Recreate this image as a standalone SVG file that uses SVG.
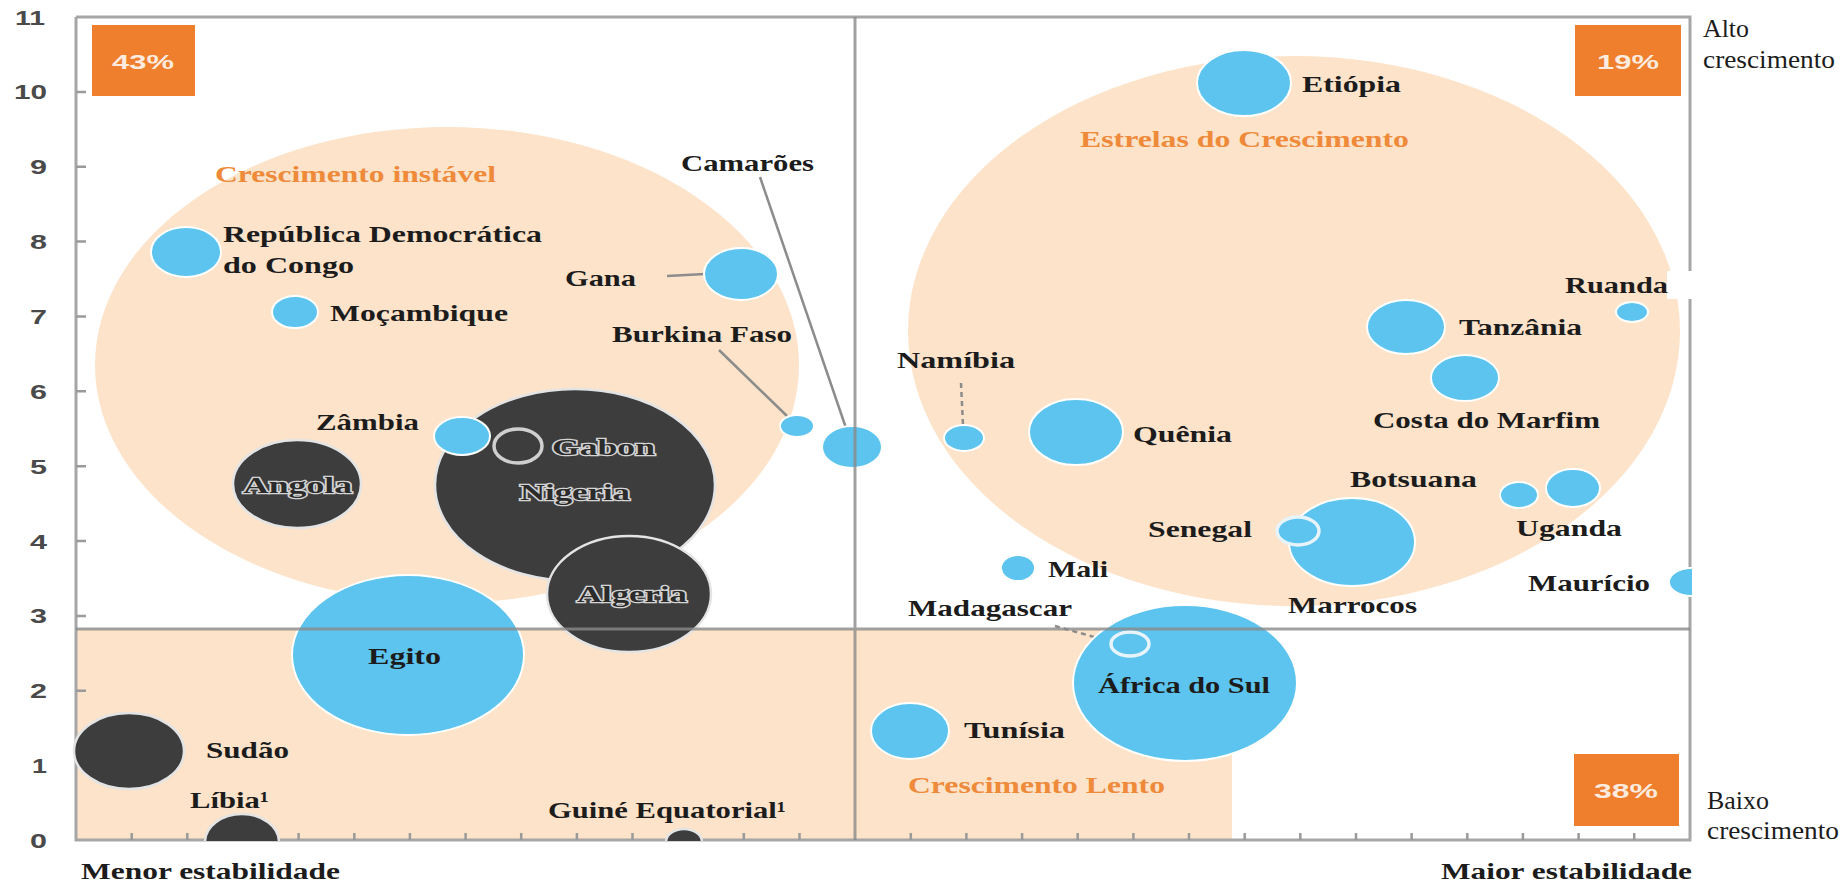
<svg xmlns="http://www.w3.org/2000/svg" width="1844" height="886" viewBox="0 0 1844 886">
<style>
.peach{fill:#fce3c9}
.blue{fill:#5cc4ee;stroke:#ffffff;stroke-width:2}
.dark{fill:#3d3d3d;stroke:#e4e4e4;stroke-width:2.5}
.box{fill:#ef7f2d}
.lbl{font-family:"Liberation Serif","Times New Roman",serif;font-weight:bold;font-size:23px;fill:#1c1c1c}
.reg{fill:#ee8a3a}
.dk{fill:#2b2b2b;stroke:#d4d4d4;stroke-width:2.5;paint-order:stroke}
.ax{font-family:"Liberation Sans",Arial,sans-serif;font-weight:bold;font-size:21px;fill:#4a4a4a}
.side{font-family:"Liberation Serif","Times New Roman",serif;font-size:26px;fill:#1c1c1c}
.pct{font-family:"Liberation Sans",Arial,sans-serif;font-weight:bold;font-size:21px;fill:#fff;fill-opacity:0.85}
.frame{stroke:#a6a6a6;stroke-width:3;fill:none}
.grid{stroke:#8a8a8a;stroke-width:3;fill:none;stroke-opacity:0.8}
.lead{stroke:#8c8c8c;stroke-width:2.5;fill:none}
.dash{stroke:#8c8c8c;stroke-width:2.5;fill:none;stroke-dasharray:5 4}
</style>
<defs>
<clipPath id="plot"><rect x="76" y="17" width="1616" height="824"/></clipPath>
</defs>
<rect x="0" y="0" width="1844" height="886" fill="#ffffff"/>

<g id="regions">
<ellipse class="peach" cx="447" cy="365" rx="352" ry="238"/>
<ellipse class="peach" cx="1294" cy="331" rx="386" ry="275"/>
<rect class="peach" x="76" y="629" width="1156" height="211"/>
<rect x="1667" y="271" width="35" height="28" fill="#ffffff"/>
</g>

<g id="axes">
<path class="frame" d="M76 17H1690V271M1690 299V840H76V17"/>
<path stroke="#9a9a9a" stroke-width="2.5" fill="none" d="M131.7 840v-7M187.3 840v-7M243 840v-7M298.6 840v-7M354.3 840v-7M409.9 840v-7M465.6 840v-7M521.2 840v-7M576.9 840v-7M632.5 840v-7M688.2 840v-7M743.8 840v-7M799.5 840v-7M910.8 840v-7M966.4 840v-7M1022.1 840v-7M1077.7 840v-7M1133.4 840v-7M1189 840v-7M1244.7 840v-7M1300.3 840v-7M1356 840v-7M1411.6 840v-7M1467.3 840v-7M1522.9 840v-7M1578.6 840v-7M1634.2 840v-7M76 765.6h10M76 690.8h10M76 615.9h10M76 541.1h10M76 466.2h10M76 391.3h10M76 316.5h10M76 241.6h10M76 166.8h10M76 91.9h10"/>
<text class="ax" x="47" y="848" text-anchor="end" textLength="17" lengthAdjust="spacingAndGlyphs">0</text>
<text class="ax" x="47" y="773" text-anchor="end" textLength="15" lengthAdjust="spacingAndGlyphs">1</text>
<text class="ax" x="47" y="698" text-anchor="end" textLength="17" lengthAdjust="spacingAndGlyphs">2</text>
<text class="ax" x="47" y="623" text-anchor="end" textLength="17" lengthAdjust="spacingAndGlyphs">3</text>
<text class="ax" x="47" y="549" text-anchor="end" textLength="17" lengthAdjust="spacingAndGlyphs">4</text>
<text class="ax" x="47" y="474" text-anchor="end" textLength="17" lengthAdjust="spacingAndGlyphs">5</text>
<text class="ax" x="47" y="399" text-anchor="end" textLength="17" lengthAdjust="spacingAndGlyphs">6</text>
<text class="ax" x="47" y="324" text-anchor="end" textLength="17" lengthAdjust="spacingAndGlyphs">7</text>
<text class="ax" x="47" y="249" text-anchor="end" textLength="17" lengthAdjust="spacingAndGlyphs">8</text>
<text class="ax" x="47" y="174" text-anchor="end" textLength="17" lengthAdjust="spacingAndGlyphs">9</text>
<text class="ax" x="47" y="99" text-anchor="end" textLength="33" lengthAdjust="spacingAndGlyphs">10</text>
<text class="ax" x="45" y="25" text-anchor="end" textLength="30" lengthAdjust="spacingAndGlyphs">11</text>
<text class="lbl" x="81" y="879" textLength="259" lengthAdjust="spacingAndGlyphs">Menor estabilidade</text>
<text class="lbl" x="1441" y="879" textLength="251" lengthAdjust="spacingAndGlyphs">Maior estabilidade</text>
<text class="side" x="1703" y="37" textLength="46" lengthAdjust="spacingAndGlyphs">Alto</text>
<text class="side" x="1703" y="68" textLength="132" lengthAdjust="spacingAndGlyphs">crescimento</text>
<text class="side" x="1707" y="809" textLength="62" lengthAdjust="spacingAndGlyphs">Baixo</text>
<text class="side" x="1707" y="839" textLength="132" lengthAdjust="spacingAndGlyphs">crescimento</text>
</g>

<g id="region-labels">
<text class="lbl reg" x="215" y="182" textLength="281" lengthAdjust="spacingAndGlyphs">Crescimento instável</text>
<text class="lbl reg" x="1080" y="147" textLength="329" lengthAdjust="spacingAndGlyphs">Estrelas do Crescimento</text>
<text class="lbl reg" x="908" y="793" textLength="257" lengthAdjust="spacingAndGlyphs">Crescimento Lento</text>
</g>

<g id="box-43"><rect class="box" x="92" y="25" width="103" height="71"/><text class="pct" x="143" y="69" text-anchor="middle" textLength="62" lengthAdjust="spacingAndGlyphs">43%</text></g>
<g id="box-19"><rect class="box" x="1575" y="25" width="106" height="71"/><text class="pct" x="1628" y="69" text-anchor="middle" textLength="62" lengthAdjust="spacingAndGlyphs">19%</text></g>
<g id="box-38"><rect class="box" x="1574" y="754" width="105" height="72"/><text class="pct" x="1626" y="798" text-anchor="middle" textLength="64" lengthAdjust="spacingAndGlyphs">38%</text></g>

<g id="connectors">
<path class="lead" d="M667 276L705 274"/>
<path class="lead" d="M719 350L787 416"/>
<path class="lead" d="M760 177L846 428"/>
<path class="dash" d="M961 383L963 425"/>
<path class="dash" d="M1055 626L1112 642"/>
</g>

<g id="rdc"><ellipse class="blue" cx="186" cy="252" rx="35" ry="25"/><text class="lbl" x="223" y="242" textLength="319" lengthAdjust="spacingAndGlyphs">República Democrática</text><text class="lbl" x="223" y="273" textLength="131" lengthAdjust="spacingAndGlyphs">do Congo</text></g>
<g id="mocambique"><ellipse class="blue" cx="295" cy="312" rx="23" ry="16"/><text class="lbl" x="330" y="321" textLength="178" lengthAdjust="spacingAndGlyphs">Moçambique</text></g>
<g id="angola"><ellipse class="dark" cx="297" cy="484" rx="64" ry="44"/><text class="lbl dk" x="243" y="493" textLength="109" lengthAdjust="spacingAndGlyphs">Angola</text></g>
<g id="nigeria"><ellipse class="dark" cx="575" cy="485" rx="140" ry="96"/><text class="lbl dk" x="520" y="500" textLength="110" lengthAdjust="spacingAndGlyphs">Nigeria</text></g>
<g id="zambia"><ellipse class="blue" cx="462" cy="436" rx="28" ry="19"/><text class="lbl" x="316" y="430" textLength="103" lengthAdjust="spacingAndGlyphs">Zâmbia</text></g>
<g id="gabon"><ellipse cx="518" cy="446" rx="24" ry="17" fill="#3d3d3d" stroke="#cfcfcf" stroke-width="3.5"/><text class="lbl dk" x="552" y="455" textLength="103" lengthAdjust="spacingAndGlyphs">Gabon</text></g>
<g id="algeria"><ellipse class="dark" cx="629" cy="594" rx="82" ry="58"/><text class="lbl dk" x="577" y="602" textLength="110" lengthAdjust="spacingAndGlyphs">Algeria</text></g>
<g id="egito"><ellipse class="blue" cx="408" cy="655" rx="116" ry="80"/><text class="lbl" x="368" y="664" textLength="73" lengthAdjust="spacingAndGlyphs">Egito</text></g>
<g id="sudao"><ellipse class="dark" cx="129" cy="751" rx="55" ry="38"/><text class="lbl" x="206" y="758" textLength="83" lengthAdjust="spacingAndGlyphs">Sudão</text></g>
<g id="libia"><ellipse class="dark" cx="242" cy="842" rx="37" ry="28" clip-path="url(#plot)"/><text class="lbl" x="190" y="808" textLength="79" lengthAdjust="spacingAndGlyphs">Líbia¹</text></g>
<g id="guine"><ellipse class="dark" cx="684" cy="842" rx="18" ry="13" clip-path="url(#plot)"/><text class="lbl" x="548" y="818" textLength="238" lengthAdjust="spacingAndGlyphs">Guiné Equatorial¹</text></g>
<g id="gana"><ellipse class="blue" cx="741" cy="274" rx="37" ry="26"/><text class="lbl" x="565" y="286" textLength="71" lengthAdjust="spacingAndGlyphs">Gana</text></g>
<g id="burkina"><ellipse class="blue" cx="797" cy="426" rx="17" ry="11"/><text class="lbl" x="612" y="342" textLength="180" lengthAdjust="spacingAndGlyphs">Burkina Faso</text></g>
<g id="camaroes"><ellipse class="blue" cx="852" cy="447" rx="30" ry="21"/><text class="lbl" x="681" y="171" textLength="133" lengthAdjust="spacingAndGlyphs">Camarões</text></g>
<g id="namibia"><ellipse class="blue" cx="964" cy="438" rx="20" ry="13"/><text class="lbl" x="897" y="368" textLength="118" lengthAdjust="spacingAndGlyphs">Namíbia</text></g>
<g id="quenia"><ellipse class="blue" cx="1076" cy="432" rx="47" ry="33"/><text class="lbl" x="1133" y="442" textLength="99" lengthAdjust="spacingAndGlyphs">Quênia</text></g>
<g id="etiopia"><ellipse class="blue" cx="1244" cy="83" rx="47" ry="33"/><text class="lbl" x="1302" y="92" textLength="99" lengthAdjust="spacingAndGlyphs">Etiópia</text></g>
<g id="tanzania"><ellipse class="blue" cx="1406" cy="327" rx="39" ry="27"/><text class="lbl" x="1459" y="335" textLength="123" lengthAdjust="spacingAndGlyphs">Tanzânia</text></g>
<g id="costa-marfim"><ellipse class="blue" cx="1465" cy="378" rx="34" ry="23"/><text class="lbl" x="1373" y="428" textLength="227" lengthAdjust="spacingAndGlyphs">Costa do Marfim</text></g>
<g id="ruanda"><ellipse class="blue" cx="1632" cy="312" rx="16" ry="10"/><text class="lbl" x="1565" y="293" textLength="103" lengthAdjust="spacingAndGlyphs">Ruanda</text></g>
<g id="marrocos"><ellipse class="blue" cx="1352" cy="542" rx="63" ry="44"/><text class="lbl" x="1288" y="613" textLength="129" lengthAdjust="spacingAndGlyphs">Marrocos</text></g>
<g id="botsuana"><text class="lbl" x="1350" y="487" textLength="127" lengthAdjust="spacingAndGlyphs">Botsuana</text></g>
<g id="senegal"><ellipse cx="1298" cy="531" rx="21" ry="14" fill="#5cc4ee" stroke="#e8f4fb" stroke-width="3.5"/><text class="lbl" x="1148" y="537" textLength="104" lengthAdjust="spacingAndGlyphs">Senegal</text></g>
<g id="uganda"><ellipse class="blue" cx="1519" cy="495" rx="19" ry="13"/><ellipse class="blue" cx="1573" cy="488" rx="27" ry="19"/><text class="lbl" x="1516" y="536" textLength="106" lengthAdjust="spacingAndGlyphs">Uganda</text></g>
<g id="mauricio"><ellipse class="blue" cx="1691" cy="582" rx="22" ry="14" clip-path="url(#plot)"/><text class="lbl" x="1528" y="591" textLength="122" lengthAdjust="spacingAndGlyphs">Maurício</text></g>
<g id="mali"><ellipse class="blue" cx="1018" cy="568" rx="17" ry="13"/><text class="lbl" x="1048" y="577" textLength="60" lengthAdjust="spacingAndGlyphs">Mali</text></g>
<g id="africa-sul"><ellipse class="blue" cx="1185" cy="683" rx="112" ry="78"/><text class="lbl" x="1098" y="693" textLength="172" lengthAdjust="spacingAndGlyphs">África do Sul</text></g>
<g id="madagascar"><ellipse cx="1130" cy="644" rx="19" ry="12" fill="#5cc4ee" stroke="#e8f4fb" stroke-width="3.5"/><text class="lbl" x="908" y="616" textLength="164" lengthAdjust="spacingAndGlyphs">Madagascar</text></g>
<g id="tunisia"><ellipse class="blue" cx="910" cy="731" rx="39" ry="28"/><text class="lbl" x="964" y="738" textLength="101" lengthAdjust="spacingAndGlyphs">Tunísia</text></g>

<g id="gridlines">
<path class="grid" d="M855 17V840M76 629H1690"/>
</g>
</svg>
